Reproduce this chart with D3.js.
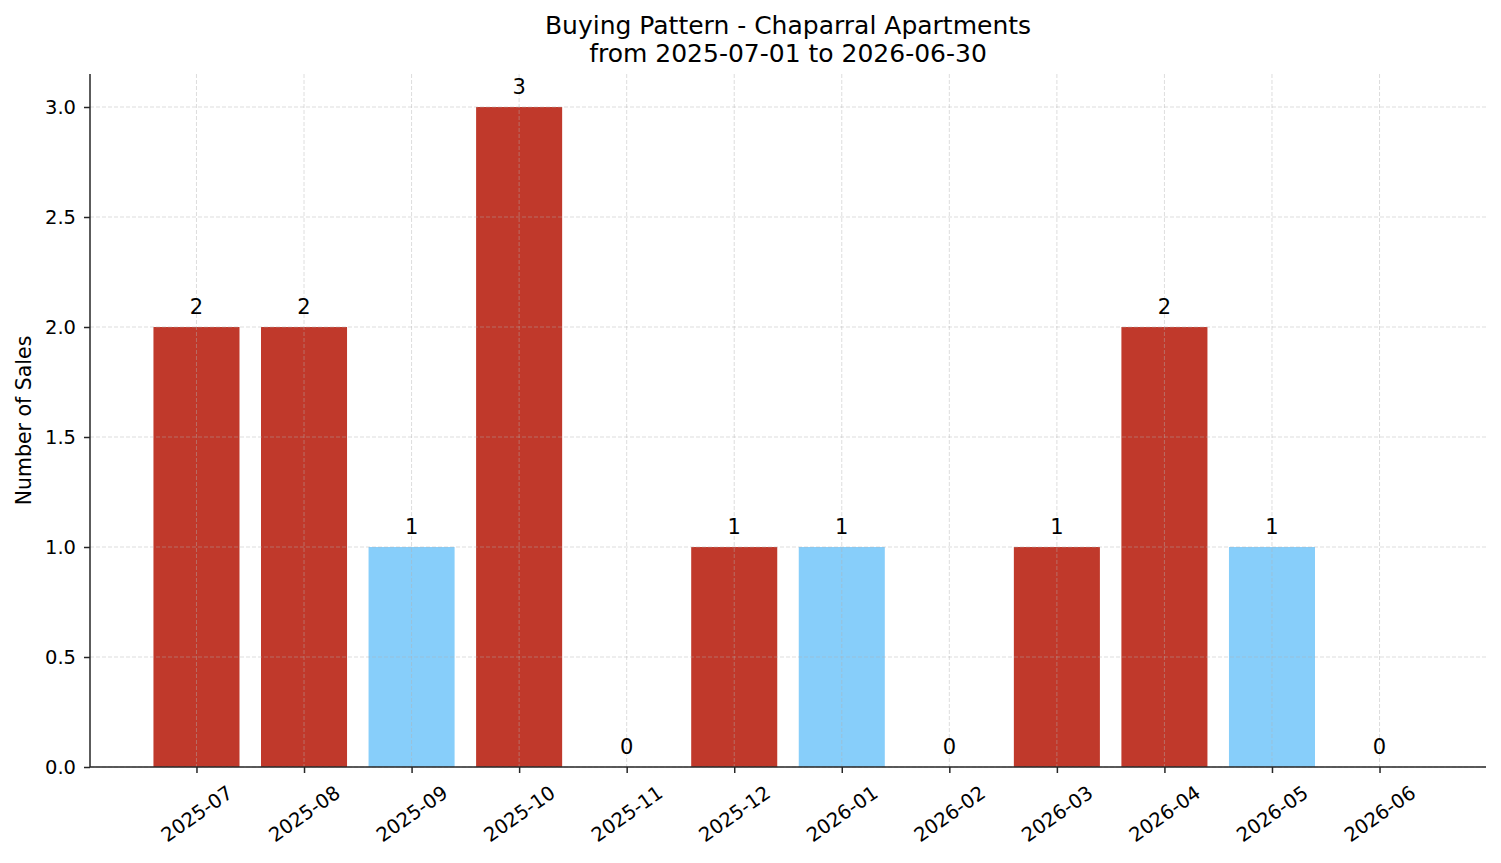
<!DOCTYPE html>
<html>
<head>
<meta charset="utf-8">
<script src="https://cdn.jsdelivr.net/npm/d3@7"></script>
<style>
  body { margin: 0; background: #fff; }
  svg { font-family: "DejaVu Sans", sans-serif; }
</style>
</head>
<body>
<svg width="1501" height="863"></svg>
<script>
var months = ['2025-07', '2025-08', '2025-09', '2025-10', '2025-11', '2025-12',
              '2026-01', '2026-02', '2026-03', '2026-04', '2026-05', '2026-06'];
var sales = [2, 2, 1, 3, 0, 1, 1, 0, 1, 2, 1, 0];
// which bars are highlighted blue in the reference
var highlight = [false, false, true, false, false, false, true, false, false, false, true, false];
var yTicks = [0, 0.5, 1, 1.5, 2, 2.5, 3];

var svg = d3.select('svg');
var margin = { left: 90, right: 15, top: 74, bottom: 96 };
var width = 1501 - margin.left - margin.right;
var height = 863 - margin.top - margin.bottom;

var red = '#c0392b';
var blue = '#87cefa';

// index-based x like matplotlib: bars at 0..n-1, width 0.8, 5% margins
var n = months.length;
var x = d3.scaleLinear().domain([-0.99, n - 1 + 0.99]).range([0, width]);
var y = d3.scaleLinear().domain([0, 3.15]).range([height, 0]);
var unit = x(1) - x(0);

var g = svg.append('g').attr('transform', 'translate(' + margin.left + ',' + margin.top + ')');

// bars
g.selectAll('rect.bar')
  .data(sales)
  .enter().append('rect')
  .attr('class', 'bar')
  .attr('x', function(d, i){ return x(i) - unit * 0.4; })
  .attr('width', unit * 0.8)
  .attr('y', function(d){ return y(d); })
  .attr('height', function(d){ return height - y(d); })
  .style('fill', function(d, i){ return highlight[i] ? blue : red; });

// grid (drawn over the bars, like the reference)
var grid = g.append('g').attr('class', 'grid');
grid.selectAll('line.h')
  .data(yTicks)
  .enter().append('line')
  .attr('x1', 0).attr('x2', width)
  .attr('y1', function(d){ return y(d); })
  .attr('y2', function(d){ return y(d); });
grid.selectAll('line.v')
  .data(d3.range(n))
  .enter().append('line')
  .attr('x1', function(d){ return x(d); })
  .attr('x2', function(d){ return x(d); })
  .attr('y1', 0).attr('y2', height);
grid.selectAll('line')
  .style('stroke', '#b0b0b0')
  .style('stroke-opacity', 0.55)
  .style('stroke-width', 0.8)
  .style('stroke-dasharray', '4,2');

// value labels
g.selectAll('text.val')
  .data(sales)
  .enter().append('text')
  .attr('class', 'val')
  .attr('x', function(d, i){ return x(i); })
  .attr('y', function(d){ return y(d) - 13; })
  .attr('text-anchor', 'middle')
  .style('font-size', '21px')
  .text(function(d){ return d; });

// y axis
var yAxis = g.append('g')
  .call(d3.axisLeft(y).tickValues(yTicks).tickFormat(d3.format('.1f')).tickSize(6).tickPadding(8));

// x axis
var xAxis = g.append('g')
  .attr('transform', 'translate(0,' + height + ')')
  .call(d3.axisBottom(x).tickValues(d3.range(n)).tickFormat(function(i){ return months[i]; }).tickSize(6));

[yAxis, xAxis].forEach(function(ax){
  ax.select('.domain').style('stroke', '#262626').style('stroke-width', 1.5);
  ax.selectAll('.tick line').style('stroke', '#262626').style('stroke-width', 1.5);
  ax.selectAll('.tick text').style('font-size', '19.5px').style('fill', '#000')
    .style('font-family', '"DejaVu Sans", sans-serif');
});
// plain spines: keep only the straight axis line, no outer ticks
yAxis.select('.domain').attr('d', 'M0,0V' + height);
xAxis.select('.domain').attr('d', 'M0,0H' + width);

xAxis.selectAll('.tick text')
  .attr('text-anchor', 'middle')
  .attr('dy', null)
  .attr('y', 0)
  .attr('transform', 'translate(0,47) rotate(-35)')
  .attr('dominant-baseline', 'central');

// y label
svg.append('text')
  .attr('transform', 'translate(31,' + (margin.top + height / 2) + ') rotate(-90)')
  .attr('text-anchor', 'middle')
  .style('font-size', '20.5px')
  .text('Number of Sales');

// title
svg.append('text')
  .attr('x', margin.left + width / 2)
  .attr('y', 34)
  .attr('text-anchor', 'middle')
  .style('font-size', '25px')
  .text('Buying Pattern - Chaparral Apartments');
svg.append('text')
  .attr('x', margin.left + width / 2)
  .attr('y', 62)
  .attr('text-anchor', 'middle')
  .style('font-size', '25px')
  .text('from 2025-07-01 to 2026-06-30');
</script>
</body>
</html>
